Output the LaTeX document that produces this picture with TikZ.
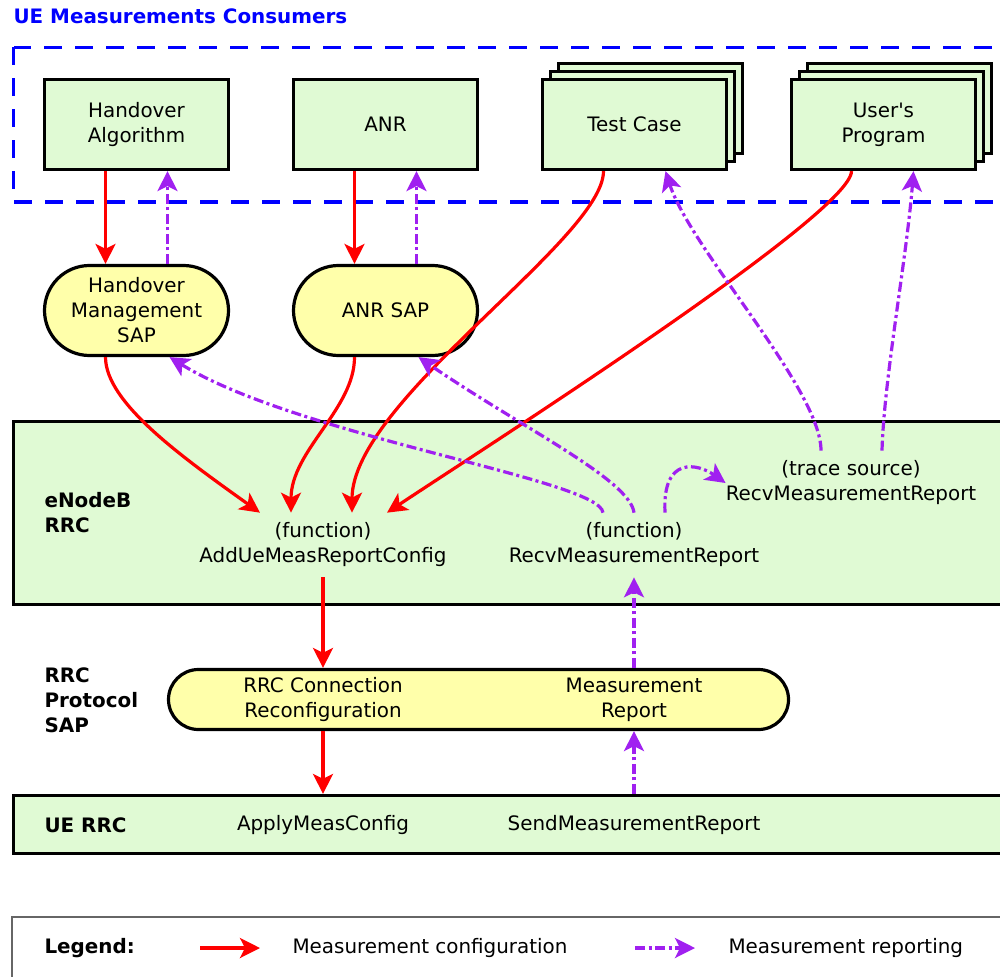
\documentclass[tikz,border=0pt]{standalone}
\usepackage{fontspec}
\setmainfont{DejaVu Sans}
\usepackage{tikz}
\usepackage{xcolor}
\usetikzlibrary{arrows.meta, shapes, positioning, calc}
\definecolor{consumerfill}{RGB}{224,250,212}
\definecolor{sapfill}{RGB}{255,255,170}
\definecolor{reportclr}{RGB}{160,32,240}

\begin{document}
\begin{tikzpicture}[
  x=1pt, y=-1pt,
  every node/.style={font=\fontsize{19.9}{25}\selectfont, align=center},
  box/.style={draw, line width=3.2pt, fill=consumerfill, minimum width=184pt, minimum height=90pt},
  sap/.style={draw, line width=3.2pt, fill=sapfill, rounded corners=45pt, minimum width=184pt, minimum height=90pt},
  layer/.style={draw, line width=3.2pt, fill=consumerfill, minimum width=1010pt},
  lbl/.style={font=\fontsize{19.9}{25}\selectfont\bfseries, align=left, anchor=west},
  legendtxt/.style={anchor=west},
  fn/.style={inner sep=10pt},
  cfg/.style={draw=red, line width=3.2pt, -{Stealth[length=20pt, width=20pt, inset=5pt]}},
  rep/.style={draw=reportclr, line width=3.2pt, dash pattern=on 10pt off 3.5pt on 3pt off 3.5pt,
              -{Stealth[length=20pt, width=20pt, inset=5pt]}},
]
\useasboundingbox (0,0) rectangle (1000,976);

\node[lbl, text=blue] (title) at (10,16) {UE Measurements Consumers};
\draw[blue, line width=3.2pt, dash pattern=on 18pt off 13pt] (13.5,47.5) rectangle (1030,202);

\node[box] (hoalg) at (136.5,124.5) {Handover\\Algorithm};
\node[box] (anr) at (385.5,124.5) {ANR};
\node[box] (tcback2) at (650.5,108.5) {};
\node[box] (tcback1) at (642.5,116.5) {};
\node[box] (testcase) at (634.5,124.5) {Test Case};
\node[box] (upback2) at (899.5,108.5) {};
\node[box] (upback1) at (891.5,116.5) {};
\node[box] (userprog) at (883.5,124.5) {User\textquotesingle s\\Program};

\node[sap] (hmsap) at (136.5,310.5) {Handover\\Management\\SAP};
\node[sap] (anrsap) at (385.5,310.5) {ANR SAP};

\node[layer, minimum height=183pt] (enb) at (518.5,513) {};
\node[lbl] (enblbl) at (41,513) {eNodeB\\RRC};
\node[fn] (addcfg) at (323,545) {(function)\\AddUeMeasReportConfig};
\node[fn] (recvfn) at (634,545) {(function)\\RecvMeasurementReport};
\node[fn] (trace) at (851,483) {(trace source)\\RecvMeasurementReport};

\node[lbl] (saplbl) at (41,700) {RRC\\Protocol\\SAP};
\node[sap, rounded corners=30pt, minimum width=620pt, minimum height=60pt] (rrcsap) at (478.5,699.5) {};
\node (reconf) at (323,700) {RRC Connection\\Reconfiguration};
\node (measrep) at (634,700) {Measurement\\Report};

\node[layer, minimum height=58pt] (uerrc) at (518.5,824.5) {};
\node[lbl] (uelbl) at (41,825) {UE RRC};
\node (applycfg) at (323,825) {ApplyMeasConfig};
\node (sendrep) at (634,825) {SendMeasurementReport};

\draw[black!60, line width=1.3pt] (12,917) rectangle (1030,1000);
\node[lbl] (legend) at (41,948) {Legend:};
\node[legendtxt] (cfgtxt) at (289,948) {Measurement configuration};
\node[legendtxt] (reptxt) at (725,948) {Measurement reporting};
\coordinate (cfgfrom) at (200,948);
\coordinate (repfrom) at (635,948);
\draw[cfg] (cfgfrom) -- ([xshift=-29pt]cfgtxt.west);
\draw[rep] (repfrom) -- ([xshift=-30pt]reptxt.west);

\draw[cfg] ([xshift=-31pt]hoalg.south) -- ([xshift=-31pt]hmsap.north);
\draw[rep] ([xshift=31pt]hmsap.north) -- ([xshift=31pt]hoalg.south);
\draw[cfg] ([xshift=-31pt]anr.south) -- ([xshift=-31pt]anrsap.north);
\draw[rep] ([xshift=31pt]anrsap.north) -- ([xshift=31pt]anr.south);

\draw[cfg] ([xshift=-31pt]hmsap.south) .. controls +(0,45) and +(-80,-57) .. ([xshift=-63pt]addcfg.north);
\draw[cfg] ([xshift=-31pt]anrsap.south) .. controls +(0,52) and +(0,-62) .. ([xshift=-32pt]addcfg.north);
\draw[cfg] ([xshift=-31pt]testcase.south) .. controls +(0,68) and +(0,-112) .. ([xshift=29pt]addcfg.north);
\draw[cfg] ([xshift=-32pt]userprog.south) .. controls +(0,43) and +(93,-62) .. ([xshift=64pt]addcfg.north);

\draw[rep] ([xshift=-31pt]recvfn.north) .. controls +(-3,-33) and +(130,80) .. ([xshift=33pt]hmsap.south);
\draw[rep] (recvfn.north) .. controls +(-4,-33) and +(102,70) .. ([xshift=33pt]anrsap.south);
\draw[rep] ([xshift=31pt]recvfn.north) .. controls +(-3,-58) and +(-27,-19) .. ([xshift=10pt]trace.west);
\draw[rep] ([xshift=-30pt]trace.north) .. controls +(0,-62) and +(25,78) .. ([xshift=31pt]testcase.south);
\draw[rep] ([xshift=31pt]trace.north) .. controls +(2,-72) and +(-7,88) .. ([xshift=30pt]userprog.south);

\draw[cfg] (addcfg.south) -- (addcfg.south |- rrcsap.north);
\draw[cfg] (reconf |- rrcsap.south) -- (reconf |- uerrc.north);
\draw[rep] (sendrep |- uerrc.north) -- (sendrep |- rrcsap.south);
\draw[rep] (measrep |- rrcsap.north) -- (recvfn.south);
\end{tikzpicture}
\end{document}
